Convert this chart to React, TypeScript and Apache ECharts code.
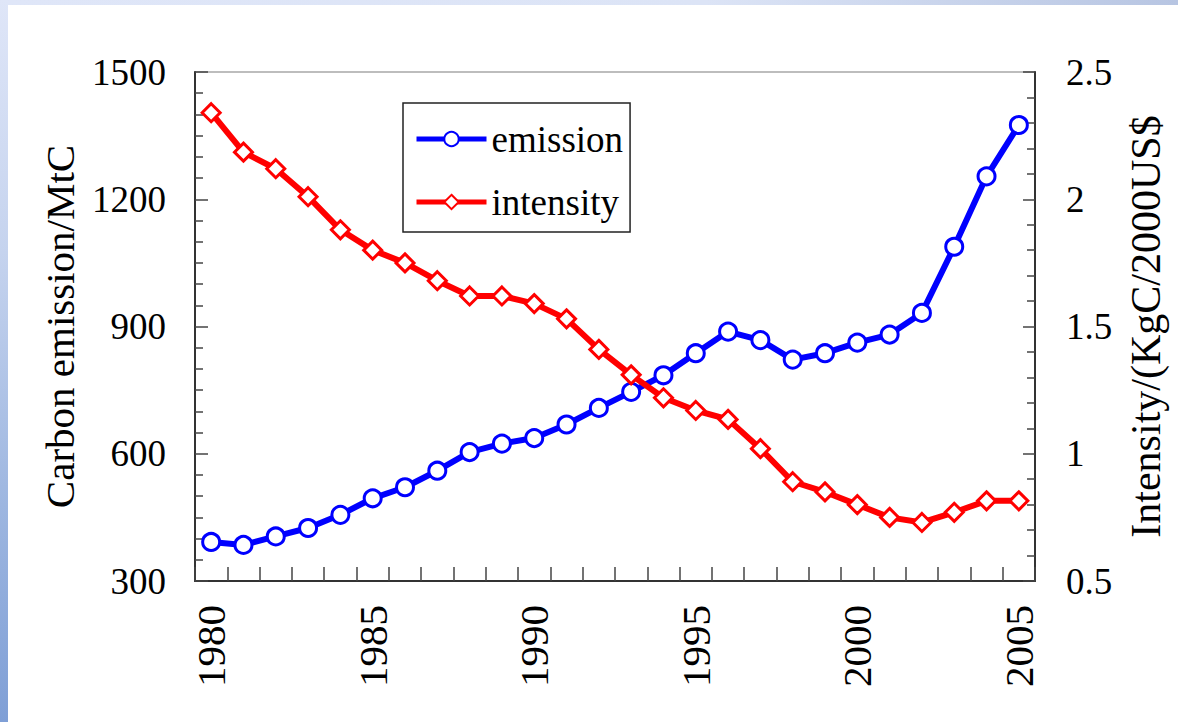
import React, { useEffect, useRef } from "react";
import * as echarts from "echarts";

const years = ["1980","1981","1982","1983","1984","1985","1986","1987","1988","1989","1990","1991","1992","1993","1994","1995","1996","1997","1998","1999","2000","2001","2002","2003","2004","2005"];
const emission = [392, 385, 405, 425, 456, 495, 521, 560, 604, 624, 637, 669, 708, 746, 785, 837, 888, 868, 822, 837, 862, 881, 932, 1088, 1254, 1375];
const intensity = [2.34, 2.185, 2.12, 2.01, 1.88, 1.8, 1.75, 1.68, 1.62, 1.62, 1.59, 1.53, 1.41, 1.31, 1.22, 1.17, 1.135, 1.02, 0.89, 0.85, 0.8, 0.75, 0.73, 0.77, 0.815, 0.815];
const seriesNames = ["emission", "intensity"];
const leftAxisName = "Carbon emission/MtC";
const rightAxisName = "Intensity/(KgC/2000US$";

const FONT = "Liberation Serif";

export default function App() {
  const ref = useRef<HTMLDivElement>(null);
  useEffect(() => {
    if (!ref.current) return;
    const chart = echarts.init(ref.current, null, { renderer: "svg" });
    const axisLine = { show: true, lineStyle: { color: "#333", width: 2 } };
    chart.setOption({
      animation: false,
      backgroundColor: "#ffffff",
      textStyle: { fontFamily: FONT },
      grid: {
        left: 187,
        top: 67,
        width: 840,
        height: 509,
        show: true,
        borderColor: "#bdbdbd",
        borderWidth: 2,
        backgroundColor: "transparent",
      },
      legend: {
        orient: "vertical",
        left: 395,
        top: 98,
        padding: [17, 7, 11, 11],
        itemGap: 25,
        itemWidth: 70,
        itemHeight: 18,
        borderColor: "#222",
        borderWidth: 1.5,
        backgroundColor: "#fff",
        lineStyle: { width: 5 },
        textStyle: { fontFamily: FONT, fontSize: 37, color: "#000", lineHeight: 38 },
        data: seriesNames,
      },
      xAxis: {
        type: "category",
        data: years,
        boundaryGap: true,
        axisLine,
        axisTick: { show: true, inside: true, interval: 0, length: 14, lineStyle: { color: "#444", width: 1.5 } },
        axisLabel: { interval: 4, rotate: 90, margin: 24, fontFamily: FONT, fontSize: 41, color: "#000" },
        splitLine: { show: false },
      },
      yAxis: [
        {
          type: "value",
          min: 300,
          max: 1500,
          interval: 300,
          position: "left",
          name: leftAxisName,
          nameLocation: "middle",
          nameRotate: 90,
          nameGap: 115,
          nameTextStyle: { fontFamily: FONT, fontSize: 41, color: "#000" },
          axisLine,
          axisTick: { show: true, inside: true, length: 13, lineStyle: { color: "#444", width: 1.5 } },
          minorTick: { show: true, splitNumber: 6, length: 8, lineStyle: { color: "#444", width: 1.5 } },
          axisLabel: { margin: 29, fontFamily: FONT, fontSize: 37, color: "#000", formatter: (v: number) => String(v) },
          splitLine: { show: false },
        },
        {
          type: "value",
          min: 0.5,
          max: 2.5,
          interval: 0.5,
          position: "right",
          name: rightAxisName,
          nameLocation: "middle",
          nameRotate: 90,
          nameGap: 90,
          nameTextStyle: { fontFamily: FONT, fontSize: 42, color: "#000" },
          axisLine,
          axisTick: { show: true, inside: true, length: 12, lineStyle: { color: "#444", width: 1.5 } },
          minorTick: { show: true, splitNumber: 5, length: 8, lineStyle: { color: "#444", width: 1.5 } },
          axisLabel: { margin: 31, fontFamily: FONT, fontSize: 37, color: "#000", formatter: (v: number) => String(v) },
          splitLine: { show: false },
        },
      ],
      series: [
        {
          name: seriesNames[0],
          type: "line",
          yAxisIndex: 0,
          data: emission,
          symbol: "circle",
          symbolSize: 17,
          lineStyle: { color: "#0000ff", width: 6 },
          itemStyle: { color: "#ffffff", borderColor: "#0000ff", borderWidth: 3 },
        },
        {
          name: seriesNames[1],
          type: "line",
          yAxisIndex: 1,
          data: intensity,
          symbol: "diamond",
          symbolSize: 18,
          lineStyle: { color: "#ff0000", width: 6 },
          itemStyle: { color: "#ffffff", borderColor: "#ff0000", borderWidth: 3 },
        },
      ],
    });
    return () => chart.dispose();
  }, []);

  return (
    <div style={{ position: "fixed", left: 0, top: 0, width: 1178, height: 722, background: "#ffffff", overflow: "hidden" }}>
      <div style={{ position: "absolute", left: 0, top: 0, width: 1178, height: 5, background: "linear-gradient(90deg, #dfe6f8 0%, #dce4f6 60%, #b7c5e2 100%)" }} />
      <div style={{ position: "absolute", left: 0, top: 0, width: 8, height: 722, background: "linear-gradient(180deg, #dfe6f8 0%, #c5d3ee 35%, #9db6e0 70%, #7f9fd6 100%)" }} />
      <div ref={ref} style={{ position: "absolute", left: 8, top: 5, width: 1170, height: 717 }} />
    </div>
  );
}
